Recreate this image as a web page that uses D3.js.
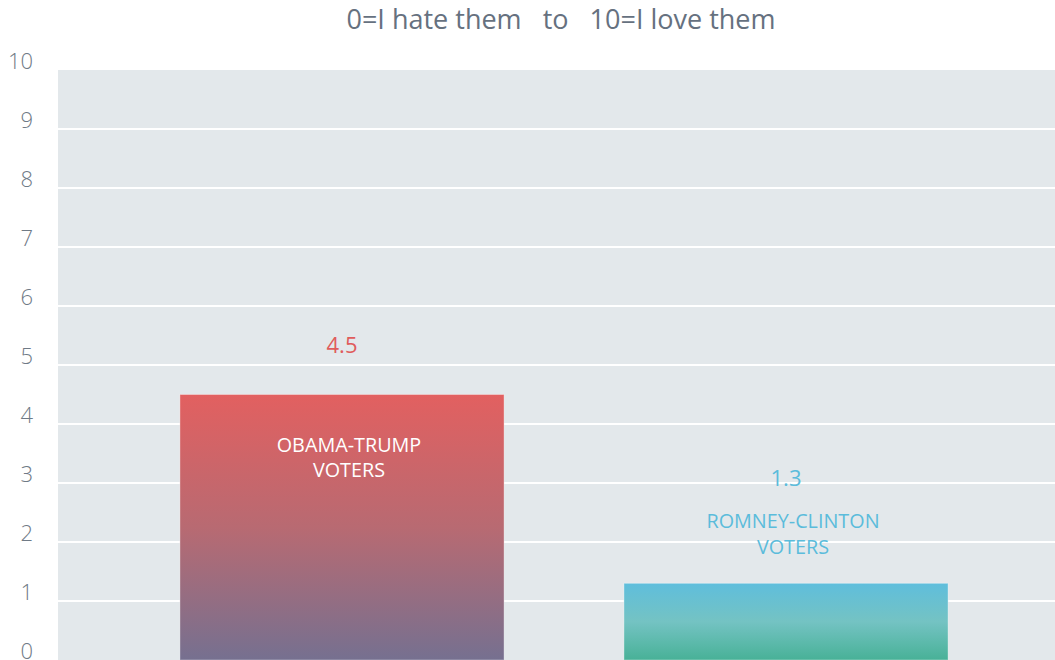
<!DOCTYPE html>
<html>
<head>
<meta charset="utf-8">
<script src="https://cdn.jsdelivr.net/npm/d3@7"></script>
<style>
  html, body { margin: 0; padding: 0; background: #ffffff; }
  svg { display: block; font-family: "Open Sans", "Noto Sans", sans-serif; }
</style>
</head>
<body>
<svg id="chart" width="1055" height="660"></svg>
<script>
// Average rating of the other group's voters, 0–10 thermometer
const categories = ["OBAMA-TRUMP VOTERS", "ROMNEY-CLINTON VOTERS"];
const categoryLines = [["OBAMA-TRUMP", "VOTERS"], ["ROMNEY-CLINTON", "VOTERS"]];
const ratings = [4.5, 1.3];
const yTicks = [0, 1, 2, 3, 4, 5, 6, 7, 8, 9, 10];
const title = "0=I hate them   to   10=I love them";

const W = 1055, H = 660;
const svg = d3.select("#chart");

const y = d3.scaleLinear().domain([0, 10]).range([660, 70]);
const x = d3.scaleBand().domain(categories).range([120, 1008])
  .paddingInner(0.27).paddingOuter(0.135);

const barColors = [
  { top: "#e26060", mid: "#b86a72", bottom: "#767090", label: "#e05c5c", text: "#ffffff" },
  { top: "#5fbedc", mid: "#74c3c3", bottom: "#48b197", label: "#5bbcdb", text: "#5bbcdb" }
];

const defs = svg.append("defs");
barColors.forEach((c, i) => {
  const g = defs.append("linearGradient")
    .attr("id", "grad" + i)
    .attr("gradientUnits", "userSpaceOnUse")
    .attr("x1", 0).attr("x2", 0)
    .attr("y1", y(ratings[i])).attr("y2", y(0));
  g.append("stop").attr("offset", "0%").attr("stop-color", c.top);
  g.append("stop").attr("offset", "50%").attr("stop-color", c.mid);
  g.append("stop").attr("offset", "100%").attr("stop-color", c.bottom);
});

// plot background
svg.append("rect")
  .attr("x", 58).attr("y", y(10))
  .attr("width", W - 58).attr("height", y(0) - y(10))
  .attr("fill", "#e3e8eb");

// horizontal gridlines
svg.append("g").selectAll("line")
  .data(yTicks.filter(t => t > 0 && t < 10))
  .join("line")
  .attr("x1", 58).attr("x2", W)
  .attr("y1", d => y(d)).attr("y2", d => y(d))
  .attr("stroke", "#ffffff").attr("stroke-width", 2);

// y tick labels, sitting just above each gridline
svg.append("g").selectAll("text")
  .data(yTicks)
  .join("text")
  .attr("x", 33)
  .attr("y", d => y(d) - 1)
  .attr("text-anchor", "end")
  .attr("font-size", 22)
  .attr("font-weight", 300)
  .attr("fill", "#6f7a86")
  .text(d => d);

// title
svg.append("text")
  .attr("x", 561).attr("y", 29)
  .attr("text-anchor", "middle")
  .attr("font-size", 27)
  .attr("font-weight", 400)
  .attr("fill", "#66717f")
  .attr("xml:space", "preserve")
  .style("white-space", "pre")
  .text(title);

// bars
svg.append("g").selectAll("rect")
  .data(ratings)
  .join("rect")
  .attr("x", (d, i) => x(categories[i]))
  .attr("y", d => y(d))
  .attr("width", x.bandwidth())
  .attr("height", d => y(0) - y(d))
  .attr("fill", (d, i) => `url(#grad${i})`)
  .attr("stroke", "rgba(255,255,255,0.35)")
  .attr("stroke-width", 1);

// labels: category name inside tall bars, above short ones
ratings.forEach((v, i) => {
  const cx = x(categories[i]) + x.bandwidth() / 2;
  const top = y(v);
  const inside = (y(0) - top) > 120;
  const c = barColors[i];
  let lineY, valueY;
  if (inside) {
    lineY = [top + 57, top + 82];
    valueY = top - 42;
  } else {
    lineY = [top - 55, top - 29];
    valueY = top - 97;
  }
  svg.append("text")
    .attr("x", cx).attr("y", valueY)
    .attr("text-anchor", "middle")
    .attr("font-size", 22)
    .attr("font-weight", 400)
    .attr("fill", c.label)
    .text(v.toFixed(1));
  categoryLines[i].forEach((line, k) => {
    svg.append("text")
      .attr("x", cx + 7).attr("y", lineY[k])
      .attr("text-anchor", "middle")
      .attr("font-size", 19.8)
      .attr("font-weight", 400)
      .attr("fill", inside ? "#ffffff" : c.text)
      .text(line);
  });
});
</script>
</body>
</html>
